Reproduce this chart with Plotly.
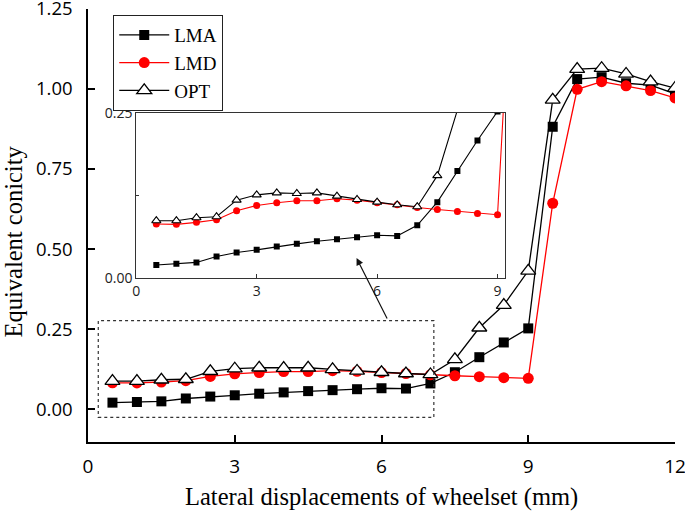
import plotly.graph_objects as go

x_vals = [0.5, 1.0, 1.5, 2.0, 2.5, 3.0, 3.5, 4.0, 4.5, 5.0, 5.5, 6.0,
          6.5, 7.0, 7.5, 8.0, 8.5, 9.0, 9.5, 10.0, 10.5, 11.0, 11.5, 12.0]
lma = [0.020, 0.022, 0.024, 0.033, 0.039, 0.043, 0.048, 0.052, 0.056, 0.059, 0.062, 0.065,
       0.064, 0.080, 0.115, 0.162, 0.208, 0.252, 0.882, 1.031, 1.037, 1.018, 1.012, 0.985]
lmd = [0.082, 0.0815, 0.0845, 0.0885, 0.102, 0.110, 0.114, 0.117, 0.117, 0.120, 0.118, 0.114,
       0.111, 0.107, 0.104, 0.101, 0.098, 0.096, 0.643, 0.999, 1.023, 1.010, 0.995, 0.972]
opt = [0.087, 0.087, 0.0915, 0.093, 0.118, 0.126, 0.129, 0.128, 0.129, 0.124, 0.119, 0.115,
       0.111, 0.108, 0.155, 0.254, 0.325, 0.432, 0.966, 1.062, 1.065, 1.047, 1.023, 1.003]

main_xticks = [0, 3, 6, 9, 12]
main_yticks = [0.0, 0.25, 0.5, 0.75, 1.0, 1.25]
inset_xticks = [0, 3, 6, 9]
inset_yticks = [0.0, 0.25]

SERIF = "Liberation Serif"
SANS = "Open Sans"
LW = 1.3

fig = go.Figure()

styles = [
    ("LMA", lma, "black", dict(symbol="square", color="black", size=10, line=dict(width=0))),
    ("LMD", lmd, "red", dict(symbol="circle", color="red", size=11, line=dict(width=0))),
    ("OPT", opt, "black", dict(symbol="triangle-up", color="white", size=13,
                               line=dict(color="black", width=1.3))),
]

for name, ys, lc, mk in styles:
    fig.add_trace(go.Scatter(x=x_vals, y=ys, name=name, mode="lines+markers",
                             line=dict(color=lc, width=LW), marker=mk,
                             xaxis="x", yaxis="y"))

inset_sizes = {"LMA": 6, "LMD": 7, "OPT": 8}
for name, ys, lc, mk in styles:
    mk2 = dict(mk)
    mk2["size"] = inset_sizes[name]
    if name == "OPT":
        mk2["line"] = dict(color="black", width=1.1)
    fig.add_trace(go.Scatter(x=x_vals, y=ys, name=name, mode="lines+markers",
                             line=dict(color=lc, width=1.1), marker=mk2,
                             xaxis="x2", yaxis="y2", showlegend=False))

fig.update_layout(
    width=685, height=516,
    margin=dict(l=88, r=10, t=9, b=74, autoexpand=False),
    paper_bgcolor="white", plot_bgcolor="white",
    showlegend=True,
    legend=dict(x=0.043, y=0.986, xanchor="left", yanchor="top",
                bordercolor="#222", borderwidth=1, bgcolor="white",
                font=dict(family=SERIF, size=19, color="black"),
                tracegroupgap=0, itemwidth=50),
    xaxis=dict(range=[0, 12], tickvals=main_xticks, ticktext=[str(v) for v in main_xticks],
               showline=True, linecolor="black", linewidth=1.5, ticks="inside",
               ticklen=7, tickwidth=1.5, tickcolor="black", showgrid=False, zeroline=False,
               automargin=False, ticklabeloverflow="allow",
               tickfont=dict(family=SANS, size=19, color="black"), ticklabelstandoff=6),
    yaxis=dict(range=[-0.103, 1.25], tickvals=main_yticks,
               ticktext=["%.2f" % v for v in main_yticks],
               showline=True, linecolor="black", linewidth=1.5, ticks="inside",
               ticklen=7, tickwidth=1.5, tickcolor="black", showgrid=False, zeroline=False,
               automargin=False, ticklabeloverflow="allow",
               tickfont=dict(family=SANS, size=18.5, color="black"), ticklabelstandoff=10),
    xaxis2=dict(domain=[0.0822, 0.710], anchor="y2", range=[0, 9.18],
                tickvals=inset_xticks, ticktext=[str(v) for v in inset_xticks],
                showline=True, mirror=True, linecolor="#333", linewidth=1,
                ticks="inside", ticklen=4, tickcolor="#333", showgrid=False, zeroline=False,
                automargin=False, ticklabeloverflow="allow",
                tickfont=dict(family=SANS, size=14, color="#222")),
    yaxis2=dict(domain=[0.378, 0.7605], anchor="x2", range=[0, 0.25],
                tickvals=inset_yticks, ticktext=["%.2f" % v for v in inset_yticks],
                showline=True, mirror=True, linecolor="#333", linewidth=1,
                ticks="inside", ticklen=4, tickcolor="#333", showgrid=False, zeroline=False,
                automargin=False, ticklabeloverflow="allow",
                minor=dict(tickvals=[0.125], ticks="inside", ticklen=3, tickcolor="#333"),
                tickfont=dict(family=SANS, size=14, color="#222")),
)

# dashed region box
fig.add_shape(type="rect", xref="x", yref="y", x0=0.21, x1=7.07, y0=-0.026, y1=0.276,
              line=dict(color="#333", width=1.2, dash="3px,3px"), fillcolor="rgba(0,0,0,0)")

# arrow to inset
fig.add_annotation(x=5.49, y=0.472, ax=6.13, ay=0.278, xref="x", yref="y",
                   axref="x", ayref="y", showarrow=True, arrowhead=2, arrowsize=1.2,
                   arrowwidth=1.2, arrowcolor="#111", text="")

# axis titles
fig.add_annotation(text="Lateral displacements of wheelset (mm)", xref="paper", yref="paper",
                   x=0.5, y=-0.127, xanchor="center", yanchor="middle", showarrow=False,
                   font=dict(family=SERIF, size=24.5, color="black"))
fig.add_annotation(text="Equivalent conicity", xref="paper", yref="paper",
                   x=-0.1269, y=0.462, xanchor="center", yanchor="middle", showarrow=False,
                   textangle=-90, font=dict(family=SERIF, size=24.5, color="black"))

fig.write_html("out.html", config={"displayModeBar": False},
               post_script="document.body.style.margin='0';document.body.style.overflow='hidden';")
